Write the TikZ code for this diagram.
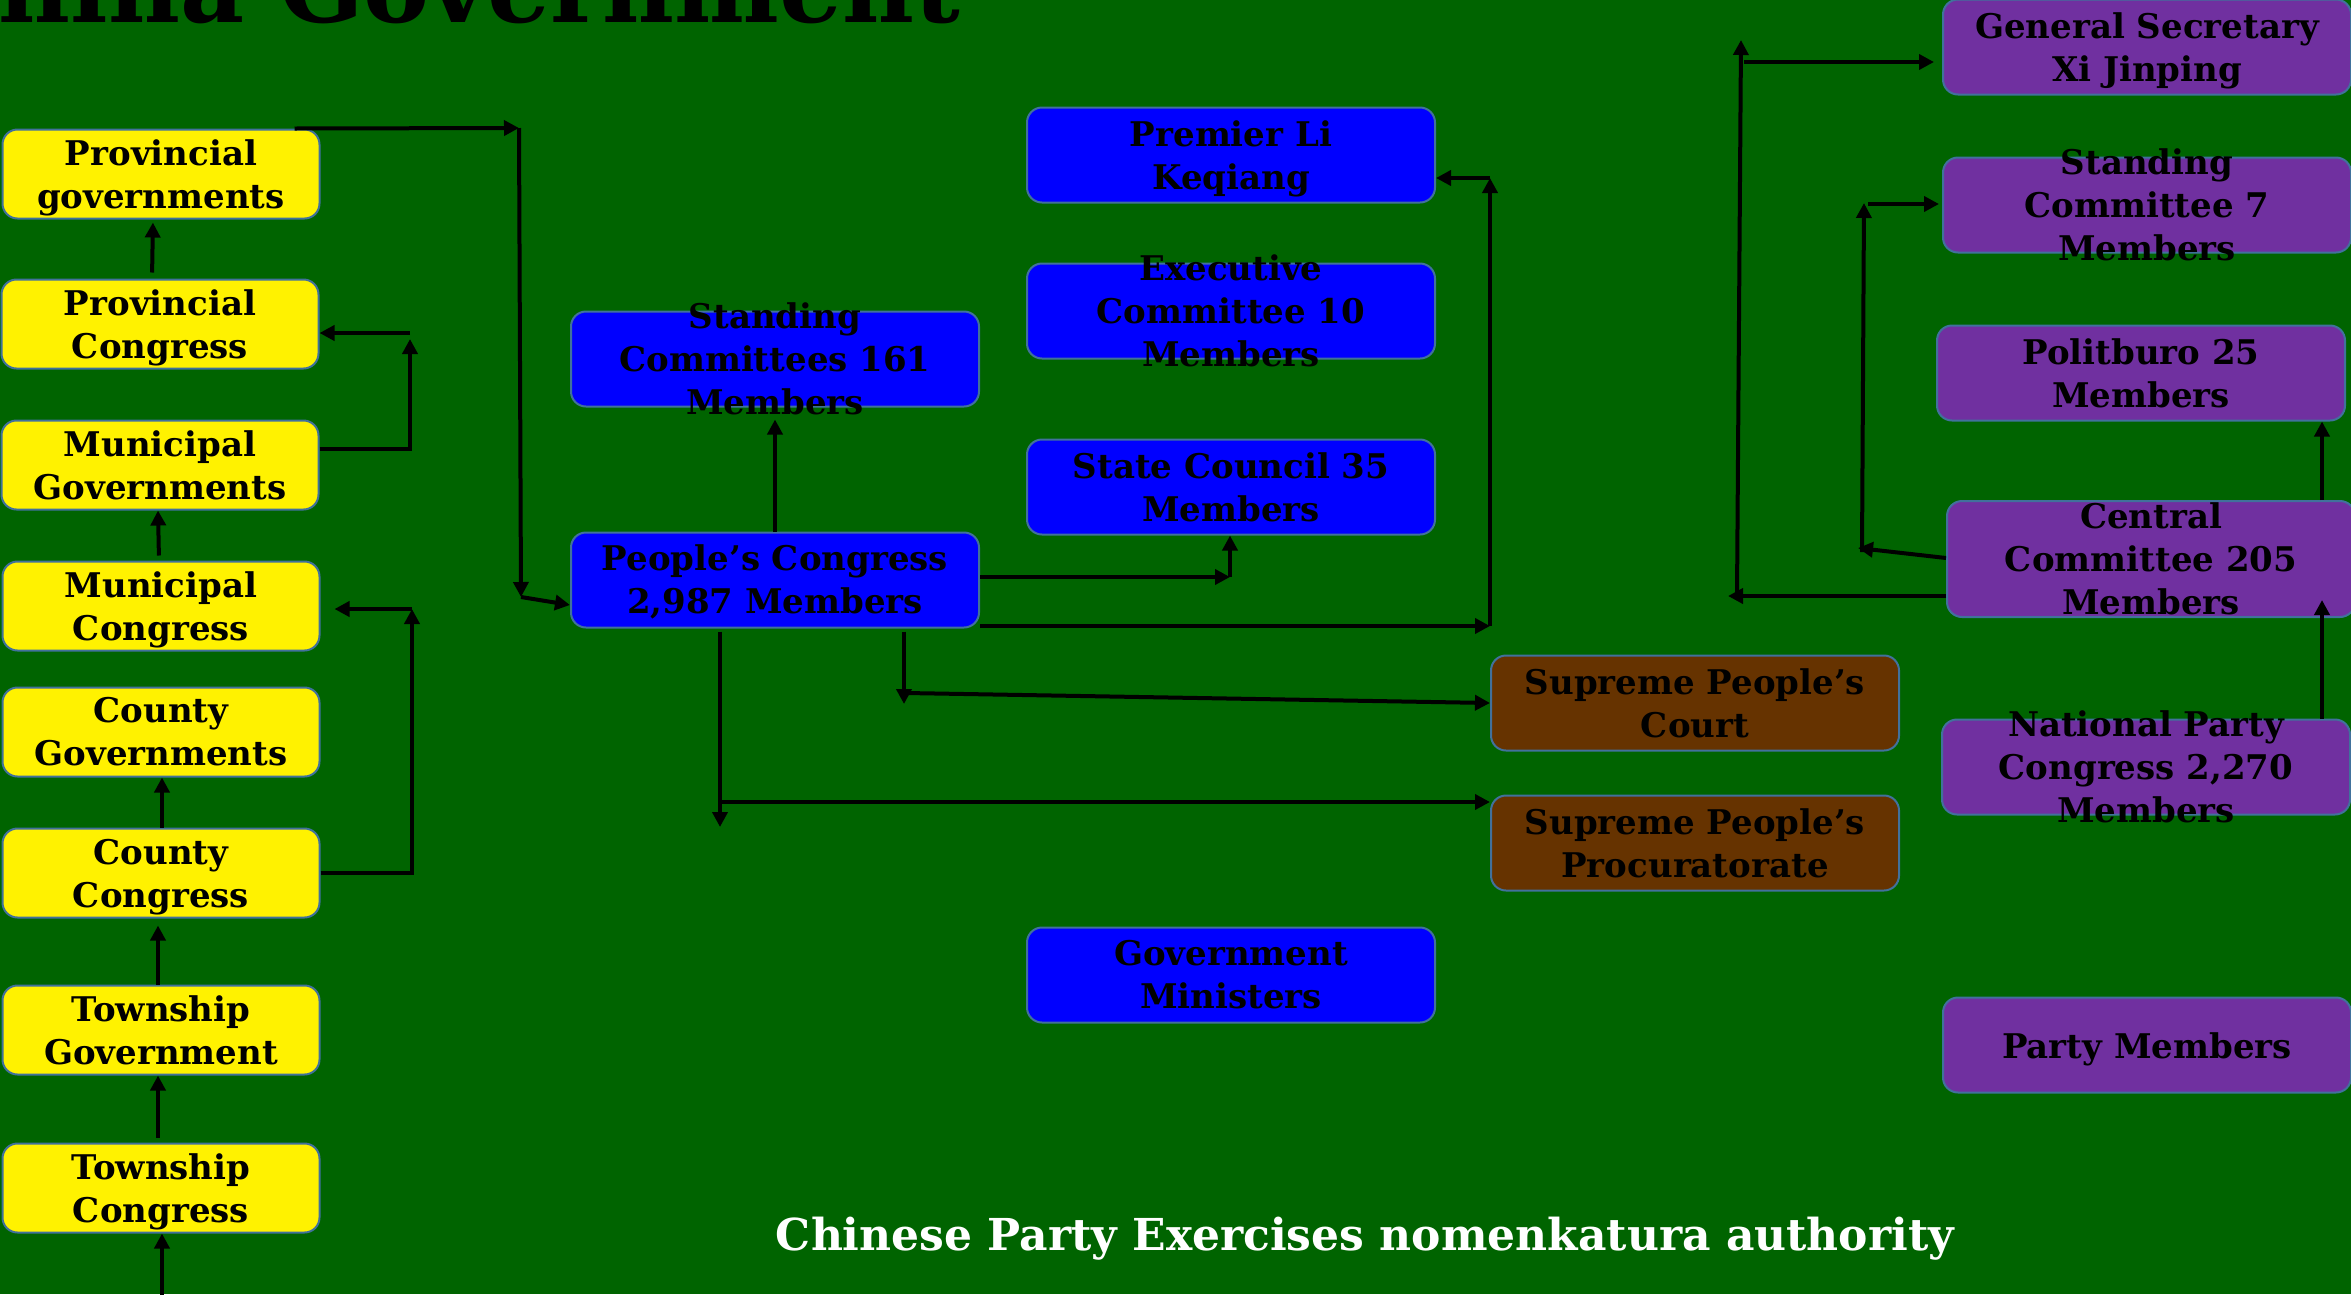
\documentclass[tikz,border=0pt]{standalone}
\usepackage{fontspec}
\setmainfont{DejaVu Serif}
\usepackage{xcolor}
\usetikzlibrary{arrows.meta}

\definecolor{bggreen}{RGB}{0,100,0}
\definecolor{boxline}{RGB}{65,113,156}
\definecolor{govblue}{RGB}{0,0,255}
\definecolor{courtbrown}{RGB}{102,51,0}
\definecolor{partypurple}{RGB}{112,48,160}

\begin{document}
\begin{tikzpicture}[
    x=1pt, y=-1pt,
    panel/.style={draw=boxline, line width=2pt, rounded corners=15pt,
                  minimum width=408pt, minimum height=95pt, inner sep=0pt},
    localbox/.style={panel, fill=yellow, minimum width=317pt, minimum height=89pt},
    govbox/.style={panel, fill=govblue},
    courtbox/.style={panel, fill=courtbrown},
    partybox/.style={panel, fill=partypurple},
    boxtext/.style={align=center, inner sep=0pt,
                    font=\fontsize{34}{43}\selectfont\bfseries},
    desc/.style={yshift=-4pt},
    arr/.style={line width=4pt, -{Triangle[length=15pt,width=15pt]}}
]
\useasboundingbox (0,0) rectangle (2351,1294);
\fill[bggreen] (0,0) rectangle (2351,1294);

\node[anchor=base east, inner sep=0pt, font=\fontsize{99}{99}\selectfont\bfseries] (title) at (960,22) {China Government};

% local levels
\node[localbox] (pgov) at (161,174) {};
\node[boxtext, desc] (pgov-t) at (pgov) {Provincial\\governments};
\node[localbox] (pcon) at (160,324) {};
\node[boxtext, desc] (pcon-t) at (pcon) {Provincial\\Congress};
\node[localbox] (mgov) at (160,465) {};
\node[boxtext] (mgov-t) at (mgov) {Municipal\\Governments};
\node[localbox] (mcon) at (161,606) {};
\node[boxtext, desc] (mcon-t) at (mcon) {Municipal\\Congress};
\node[localbox] (cgov) at (161,732) {};
\node[boxtext] (cgov-t) at (cgov) {County\\Governments};
\node[localbox] (ccon) at (161,873) {};
\node[boxtext, desc] (ccon-t) at (ccon) {County\\Congress};
\node[localbox] (tgov) at (161,1030) {};
\node[boxtext] (tgov-t) at (tgov) {Township\\Government};
\node[localbox] (tcon) at (161,1188) {};
\node[boxtext, desc] (tcon-t) at (tcon) {Township\\Congress};

% state organs
\node[govbox] (sc161) at (775,359) {};
\node[boxtext] (sc161-t) at (sc161) {Standing\\Committees 161\\Members};
\node[govbox] (pc) at (775,580) {};
\node[boxtext, yshift=-2pt] (pc-t) at (pc) {People’s Congress\\2,987 Members};
\node[govbox] (prem) at (1231,155) {};
\node[boxtext, desc] (prem-t) at (prem) {Premier Li\\Keqiang};
\node[govbox] (exec) at (1231,311) {};
\node[boxtext] (exec-t) at (exec) {Executive\\Committee 10\\Members};
\node[govbox] (council) at (1231,487) {};
\node[boxtext] (council-t) at (council) {State Council 35\\Members};
\node[govbox] (minis) at (1231,975) {};
\node[boxtext] (minis-t) at (minis) {Government\\Ministers};
\node[courtbox] (court) at (1695,703) {};
\node[boxtext] (court-t) at (court) {Supreme People’s\\Court};
\node[courtbox] (procu) at (1695,843) {};
\node[boxtext] (procu-t) at (procu) {Supreme People’s\\Procuratorate};

% party organs
\node[partybox] (gsec) at (2147,47) {};
\node[boxtext, desc] (gsec-t) at (gsec) {General Secretary\\Xi Jinping};
\node[partybox] (sc7) at (2147,205) {};
\node[boxtext] (sc7-t) at (sc7) {Standing\\Committee 7\\Members};
\node[partybox] (polit) at (2141,373) {};
\node[boxtext] (polit-t) at (polit) {Politburo 25\\Members};
\node[partybox, minimum height=116pt] (cc) at (2151,559) {};
\node[boxtext] (cc-t) at (cc) {Central\\Committee 205\\Members};
\node[partybox] (npc) at (2146,767) {};
\node[boxtext] (npc-t) at (npc) {National Party\\Congress 2,270\\Members};
\node[partybox] (pmem) at (2147,1045) {};
\node[boxtext, desc] (pmem-t) at (pmem) {Party Members};

\node[anchor=base, inner sep=0pt, text=white, font=\fontsize{44}{44}\selectfont\bfseries] (caption) at (1365,1250) {Chinese Party Exercises nomenkatura authority};

% local chain
\coordinate (tcon-in) at (162,1300);
\draw[arr] (tcon-in) -- ([xshift=1pt]tcon.south);
\draw[arr, shorten <=5pt] ([xshift=-3pt]tcon.north) -- ([xshift=-3pt]tgov.south);
\draw[arr, shorten >=7pt] ([xshift=-3pt]tgov.north) -- ([xshift=-3pt]ccon.south);
\draw[arr] ([xshift=1pt]ccon.north) -- ([xshift=1pt]cgov.south);
\draw[arr, shorten <=5pt] ([xshift=-2pt]mcon.north) -- ([xshift=-2pt]mgov.south);
\draw[arr, shorten <=6pt, shorten >=3pt] ([xshift=-8pt]pcon.north) -- ([xshift=-8pt]pgov.south);

\coordinate (mcon-j) at (412,609);
\draw[arr] (ccon.east) -| (mcon-j);
\draw[arr, shorten >=14pt] (mcon-j) -- (mcon-j -| mcon.east);
\coordinate (pcon-j) at (410,333);
\draw[arr, shorten >=6pt] ([yshift=16pt]mgov.east) -| (pcon-j);
\draw[arr] (pcon-j) -- (pcon-j -| pcon.east);

% up to the People's Congress
\coordinate (top-r) at (519,128);
\coordinate (pc-in) at (521,597);
\draw[arr] ([xshift=-26pt]pgov.north east) -- (top-r);
\draw[arr] (top-r) -- (pc-in);
\draw[arr] (pc-in) -- ([yshift=-25pt]pc.west);

% People's Congress outputs
\draw[arr, shorten >=12pt] (pc.north) -- (sc161.south);
\coordinate (sc-j) at (1230,577);
\draw[arr] (sc-j -| pc.east) -- (sc-j);
\draw[arr] (sc-j) -- (sc-j |- council.south);
\coordinate (pr-a) at (1490,626);
\coordinate (pr-b) at (1490,178);
\draw[arr] (pr-a -| pc.east) -- (pr-a);
\draw[arr] (pr-a) -- (pr-b);
\draw[arr] (pr-b) -- (pr-b -| prem.east);
\coordinate (ct-a) at (904,704);
\coordinate (ct-b) at (906,693);
\draw[arr, shorten <=3pt] (ct-a |- pc.south) -- (ct-a);
\draw[arr] (ct-b) -- (court.west);
\coordinate (pv-a) at (720,827);
\coordinate (pv-b) at (722,802);
\draw[arr, shorten <=3pt] (pv-a |- pc.south) -- (pv-a);
\draw[arr] (pv-b) -- (pv-b -| procu.west);

% party chain
\coordinate (cc-in) at (2322,600);
\draw[arr] (cc-in |- npc.north) -- (cc-in);
\draw[arr] (cc-in |- cc.north) -- (cc-in |- polit.south);
\coordinate (s7-a) at (1858,548);
\coordinate (s7-b) at (1862,552);
\coordinate (s7-c) at (1864,203);
\coordinate (s7-d) at (1868,204);
\draw[arr] ([yshift=1pt]cc.west) -- (s7-a);
\draw[arr] (s7-b) -- (s7-c);
\draw[arr, shorten >=3pt] (s7-d) -- (s7-d -| sc7.west);
\coordinate (gs-a) at (1728,596);
\coordinate (gs-b) at (1737,596);
\coordinate (gs-c) at (1741,40);
\coordinate (gs-d) at (1744,62);
\draw[arr] (gs-a -| cc.west) -- (gs-a);
\draw[arr] (gs-b) -- (gs-c);
\draw[arr, shorten >=8pt] (gs-d) -- (gs-d -| gsec.west);
\end{tikzpicture}
\end{document}
